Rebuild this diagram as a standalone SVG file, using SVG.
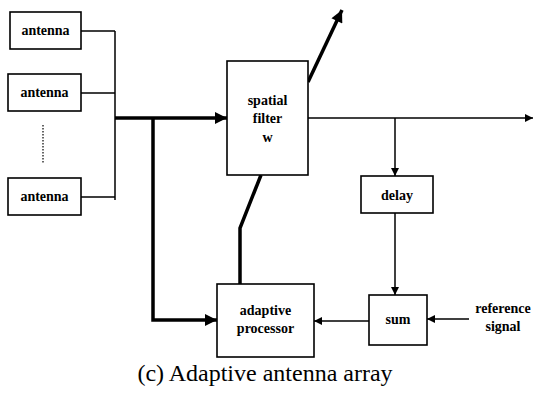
<svg xmlns="http://www.w3.org/2000/svg" width="542" height="393" viewBox="0 0 542 393">
<defs>
<style>
.box{fill:#fff;stroke:#000;stroke-width:1.6}
.t{font-family:'Liberation Serif','Times New Roman',Tinos,'DejaVu Serif',serif;font-size:14px;font-weight:bold;fill:#000;text-anchor:middle}
.cap{font-family:'Liberation Serif','Times New Roman',Tinos,'DejaVu Serif',serif;font-size:24px;fill:#000;text-anchor:middle}
.thin{fill:none;stroke:#000;stroke-width:1.5}
.thick{fill:none;stroke:#000;stroke-width:3.5}
</style>
<marker id="ah" viewBox="0 0 10 10" refX="10" refY="5" markerWidth="10" markerHeight="8" markerUnits="userSpaceOnUse" orient="auto"><path d="M0,0 L10,5 L0,10 z" fill="#000"/></marker>
<marker id="ahT" viewBox="0 0 10 10" refX="10" refY="5" markerWidth="18" markerHeight="12" markerUnits="userSpaceOnUse" orient="auto"><path d="M0,0 L10,5 L0,10 z" fill="#000"/></marker>
</defs>
<g id="connectors">
<path class="thin" d="M81,31 H115 M81,93 H115 M81,197 H115 M115,31 V200"/>
<path class="thick" d="M115,118 H227" marker-end="url(#ahT)"/>
<path class="thick" d="M153,118 V320 H217" marker-end="url(#ahT)"/>
<path class="thick" d="M308,82 L342,10" marker-end="url(#ahT)"/>
<path class="thick" d="M261,175 L240,228 V284"/>
<path class="thin" d="M308,118 H533" marker-end="url(#ah)"/>
<path class="thin" d="M395,118 V176" marker-end="url(#ah)"/>
<path class="thin" d="M395,213 V295" marker-end="url(#ah)"/>
<path class="thin" d="M469,319 H427" marker-end="url(#ah)"/>
<path class="thin" d="M369,321 H314" marker-end="url(#ah)"/>
<path fill="none" stroke="#000" stroke-width="1.2" stroke-dasharray="1.5,1.5" d="M43,125 V163"/>
</g>
<g id="antenna1"><rect class="box" x="10" y="12" width="71" height="37"/><text class="t" x="45.5" y="35">antenna</text></g>
<g id="antenna2"><rect class="box" x="8" y="74" width="73" height="37"/><text class="t" x="44.5" y="97">antenna</text></g>
<g id="antenna3"><rect class="box" x="8" y="178" width="73" height="37"/><text class="t" x="44.5" y="201">antenna</text></g>
<g id="spatial-filter"><rect class="box" x="227" y="61" width="81" height="114"/><text class="t" x="267.5" y="105">spatial</text><text class="t" x="267.5" y="123">filter</text><text class="t" x="267.5" y="142">w</text></g>
<g id="delay"><rect class="box" x="361" y="176" width="72" height="37"/><text class="t" x="397" y="200">delay</text></g>
<g id="sum"><rect class="box" x="369" y="295" width="58" height="50"/><text class="t" x="398" y="324">sum</text></g>
<g id="adaptive-processor"><rect class="box" x="217" y="284" width="97" height="73"/><text class="t" x="265.5" y="315">adaptive</text><text class="t" x="265.5" y="333">processor</text></g>
<g id="reference-signal"><text class="t" x="503" y="313">reference</text><text class="t" x="503" y="331">signal</text></g>
<text id="caption" class="cap" x="265" y="381">(c) Adaptive antenna array</text>
</svg>
